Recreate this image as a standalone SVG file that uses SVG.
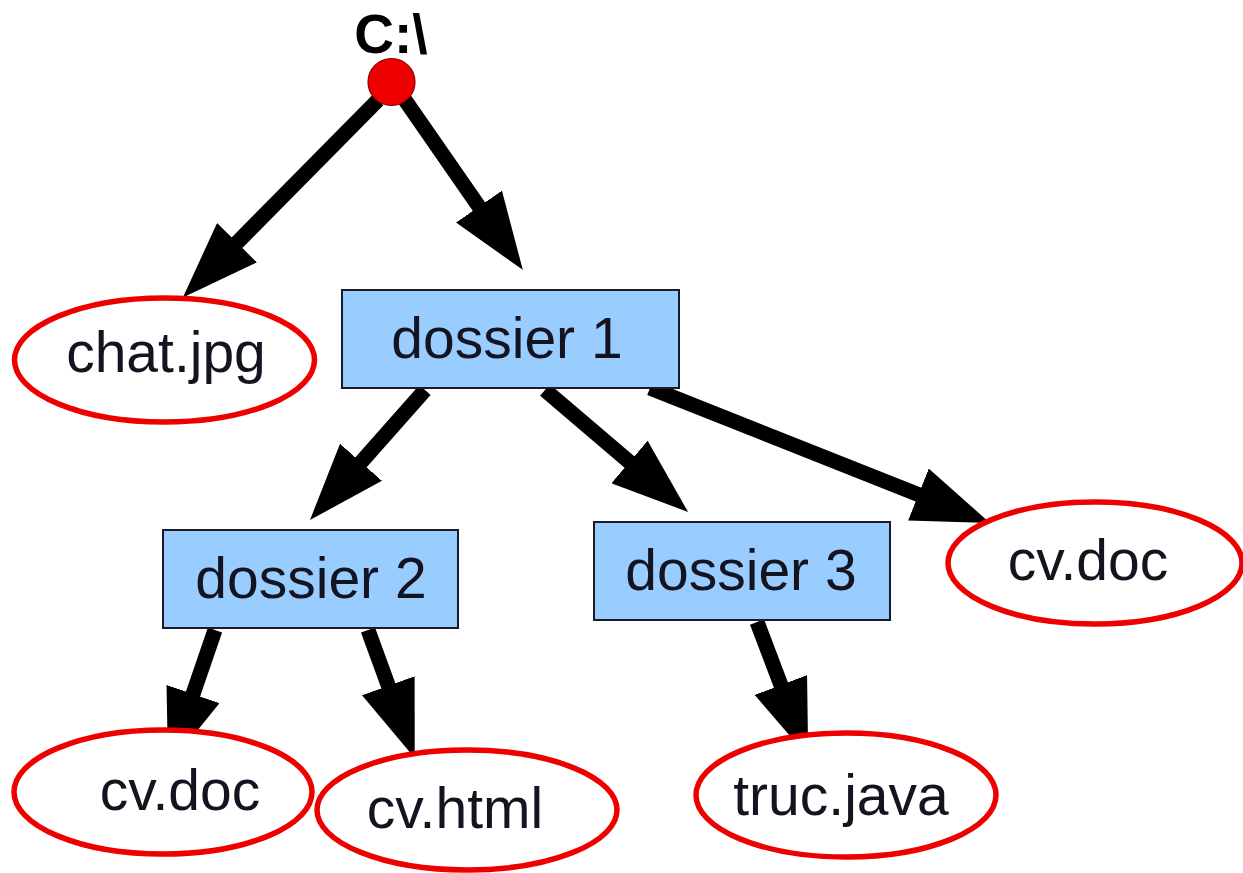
<svg xmlns="http://www.w3.org/2000/svg" width="1243" height="873" viewBox="0 0 1243 873">
<style>
.box{fill:#99ccff;stroke:#1a1a2a;stroke-width:2}
.ell{fill:#ffffff;stroke:#ee0000;stroke-width:5.5}
.lbl{font-family:"Liberation Sans",Arial,sans-serif;font-size:57px;fill:#141420;text-anchor:middle}
.edge{stroke:#000;stroke-width:15;fill:none;marker-end:url(#ah)}
</style>
<defs>
<marker id="ah" viewBox="0 0 77 56" refX="37" refY="28" markerWidth="77" markerHeight="56" markerUnits="userSpaceOnUse" orient="auto">
<path d="M0,0 L77,28 L0,56 z" fill="#000"/>
</marker>
</defs>
<rect width="1243" height="873" fill="#ffffff"/>
<g id="connectors">
<line class="edge" x1="378" y1="100" x2="211" y2="269"/>
<line class="edge" x1="405" y1="100" x2="500" y2="237"/>
<line class="edge" x1="425" y1="390" x2="336.5" y2="490"/>
<line class="edge" x1="545" y1="390" x2="657.6" y2="486"/>
<line class="edge" x1="650" y1="388" x2="952.8" y2="508.2"/>
<line class="edge" x1="215" y1="630" x2="181" y2="729"/>
<line class="edge" x1="368" y1="630" x2="401" y2="720.5"/>
<line class="edge" x1="757" y1="622" x2="794" y2="719.6"/>
</g>
<g id="root">
<text x="391" y="53" font-family="'Liberation Sans',Arial,sans-serif" font-size="55" font-weight="bold" fill="#000" text-anchor="middle">C:\</text>
<circle cx="391.5" cy="82" r="23.5" fill="#ee0000" stroke="#880000" stroke-width="1.2"/>
</g>
<g id="chat-jpg">
<ellipse class="ell" cx="164.5" cy="360" rx="150" ry="62"/>
<text class="lbl" x="166" y="372">chat.jpg</text>
</g>
<g id="dossier-1">
<rect class="box" x="342" y="290" width="337" height="98"/>
<text class="lbl" x="507" y="358">dossier 1</text>
</g>
<g id="dossier-2">
<rect class="box" x="163" y="530" width="295" height="98"/>
<text class="lbl" x="311" y="598">dossier 2</text>
</g>
<g id="dossier-3">
<rect class="box" x="594" y="522" width="296" height="98"/>
<text class="lbl" x="741" y="590">dossier 3</text>
</g>
<g id="cv-doc-right">
<ellipse class="ell" cx="1095" cy="563" rx="147" ry="61"/>
<text class="lbl" x="1088" y="580">cv.doc</text>
</g>
<g id="cv-doc-left">
<ellipse class="ell" cx="163" cy="792" rx="149" ry="62"/>
<text class="lbl" x="180" y="810">cv.doc</text>
</g>
<g id="cv-html">
<ellipse class="ell" cx="467" cy="810" rx="150" ry="60"/>
<text class="lbl" x="455" y="828">cv.html</text>
</g>
<g id="truc-java">
<ellipse class="ell" cx="846" cy="795" rx="150" ry="62"/>
<text class="lbl" x="841" y="815">truc.java</text>
</g>
</svg>
